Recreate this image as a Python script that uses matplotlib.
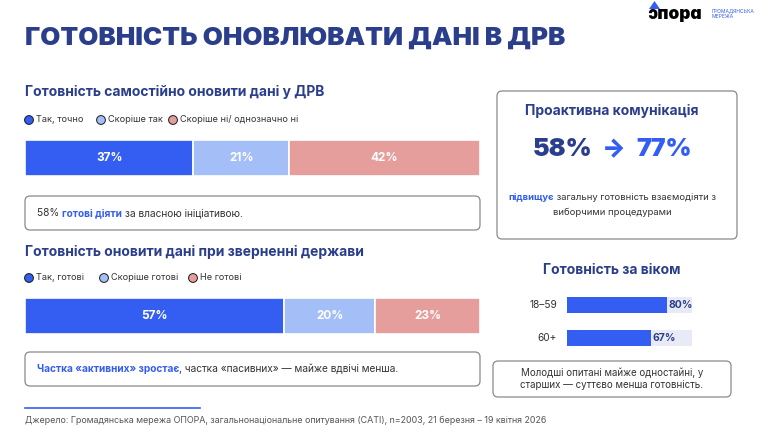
import matplotlib
matplotlib.use("Agg")
import matplotlib.pyplot as plt
from matplotlib.patches import FancyBboxPatch, Circle, Polygon

plt.rcParams['font.family'] = ['Inter', 'DejaVu Sans']

# data
own_labels = ['Так, точно', 'Скоріше так', 'Скоріше ні/ однозначно ні']
own_values = [37, 21, 42]
state_labels = ['Так, готові', 'Скоріше готові', 'Не готові']
state_values = [57, 20, 23]
age_groups = ['18–59', '60+']
age_values = [80, 67]
proactive_before = 58
proactive_after = 77

W, H = 773, 437
DARK = '#2b3e8c'
BLUE = '#335ef1'
LIGHT = '#a4bef7'
PINK = '#e69e9c'
TRACK = '#e8ebf5'
GREY = '#333333'
BORDER = '#8a8a8a'
seg_colors = [BLUE, LIGHT, PINK]

fig = plt.figure(figsize=(W / 100, H / 100), dpi=100)
fig.patch.set_facecolor('white')

# overlay axes in pixel coordinates
ov = fig.add_axes([0, 0, 1, 1])
ov.set_xlim(0, W)
ov.set_ylim(H, 0)
ov.axis('off')
renderer = fig.canvas.get_renderer()


def px_axes(x0, y0, w, h):
    return fig.add_axes([x0 / W, 1 - (y0 + h) / H, w / W, h / H])


def box(x0, y0, w, h, r=5):
    ov.add_patch(FancyBboxPatch((x0, y0), w, h, boxstyle=f'round,pad=0,rounding_size={r}',
                                fc='white', ec=BORDER, lw=0.9))


def pieces(x, y, parts, size, center=False):
    texts = []
    for s, c, wgt in parts:
        t = ov.text(x, y, s, color=c, fontsize=size, fontweight=wgt, va='center', ha='left')
        texts.append(t)
    widths = [t.get_window_extent(renderer).width for t in texts]
    start = x - sum(widths) / 2 if center else x
    for t, wd in zip(texts, widths):
        t.set_x(start)
        start += wd


def legend_row(y, xs, labels):
    for x, lab, c in zip(xs, labels, seg_colors):
        ov.add_patch(Circle((x, y), 4.4, fc=c, ec='#1a1a1a', lw=0.7))
        ov.text(x + 7, y, lab, fontsize=6.6, color=GREY, va='center', ha='left')


def stacked(y0, values):
    ax = px_axes(25, y0, 455, 36)
    left = 0
    for v, c in zip(values, seg_colors):
        ax.barh([0], [v], left=left, height=1, color=c, edgecolor='white', linewidth=1.2)
        ax.text(left + v / 2, 0, f'{v}%', color='white', fontsize=8.5, fontweight='bold',
                ha='center', va='center')
        left += v
    ax.set_xlim(0, 100)
    ax.set_ylim(-0.5, 0.5)
    ax.axis('off')


# title and logo
ov.text(25, 38, 'ГОТОВНІСТЬ ОНОВЛЮВАТИ ДАНІ В ДРВ', fontsize=18.7, fontweight='black',
        color=DARK, va='center', ha='left')
ov.add_patch(Polygon([[649, 9], [654.5, 1], [660, 9]], closed=True, fc=BLUE, ec='none'))
ov.text(647, 14, 'ɔпорɑ', fontsize=12.5, fontweight='black', color='black', va='center', ha='left')
ov.text(711, 10.5, 'ГРОМАДЯНСЬКА', fontsize=3.6, color=BLUE, va='center', ha='left')
ov.text(711, 16, 'МЕРЕЖА', fontsize=3.6, color=BLUE, va='center', ha='left')

# section 1
ov.text(25, 92, 'Готовність самостійно оновити дані у ДРВ', fontsize=10, fontweight='bold',
        color=DARK, va='center', ha='left')
legend_row(120, [29, 101, 173], own_labels)
stacked(140, own_values)
box(25, 196, 455, 34)
pieces(37, 213, [('58% ', GREY, 'normal'), ('готові діяти', BLUE, 'bold'),
                 (' за власною ініціативою.', GREY, 'normal')], 7.3)

# section 2
ov.text(25, 252, 'Готовність оновити дані при зверненні держави', fontsize=10, fontweight='bold',
        color=DARK, va='center', ha='left')
legend_row(278, [29, 104, 193], state_labels)
stacked(298, state_values)
box(25, 352, 455, 34)
pieces(37, 369, [('Частка «активних» зростає', BLUE, 'bold'),
                 (', частка «пасивних» — майже вдвічі менша.', GREY, 'normal')], 7.3)

# proactive box
box(497, 91, 240, 148)
ov.text(612, 111, 'Проактивна комунікація', fontsize=10, fontweight='bold', color=DARK,
        va='center', ha='center')
pieces(612, 150, [(f'{proactive_before}%', DARK, 'black'), ('  →  ', BLUE, 'black'),
                  (f'{proactive_after}%', BLUE, 'black')], 18, center=True)
pieces(612, 198, [('підвищує', BLUE, 'bold'),
                  (' загальну готовність взаємодіяти з', GREY, 'normal')], 6.8, center=True)
ov.text(612, 212, 'виборчими процедурами', fontsize=6.8, color=GREY, va='center', ha='center')

# age section
ov.text(612, 270, 'Готовність за віком', fontsize=10, fontweight='bold', color=DARK,
        va='center', ha='center')
ax_age = px_axes(567, 289, 125, 65)
ys = list(range(len(age_groups)))
ax_age.barh(ys, [100] * len(ys), height=0.5, color=TRACK)
ax_age.barh(ys, age_values, height=0.5, color=BLUE)
for y, v, g in zip(ys, age_values, age_groups):
    ax_age.text(v + 1.5, y, f'{v}%', fontsize=7.5, fontweight='bold', color=DARK,
                va='center', ha='left')
    ax_age.text(-8, y, g, fontsize=7.3, color=GREY, va='center', ha='right')
ax_age.set_xlim(0, 100)
ax_age.set_ylim(len(ys) - 0.5, -0.5)
ax_age.axis('off')

box(493, 361, 238, 36)
ov.text(612, 372.5, 'Молодші опитані майже одностайні, у', fontsize=7, color=GREY,
        va='center', ha='center')
ov.text(612, 385, 'старших — суттєво менша готовність.', fontsize=7, color=GREY,
        va='center', ha='center')

# footer
ov.plot([25, 200], [408, 408], color=BLUE, lw=1.2)
ov.text(25, 420, 'Джерело: Громадянська мережа ОПОРА, загальнонаціональне опитування (CATI), '
        'n=2003, 21 березня – 19 квітня 2026', fontsize=6.4, color='#555555',
        va='center', ha='left')

fig.savefig('out.png', dpi=100, facecolor='white')
